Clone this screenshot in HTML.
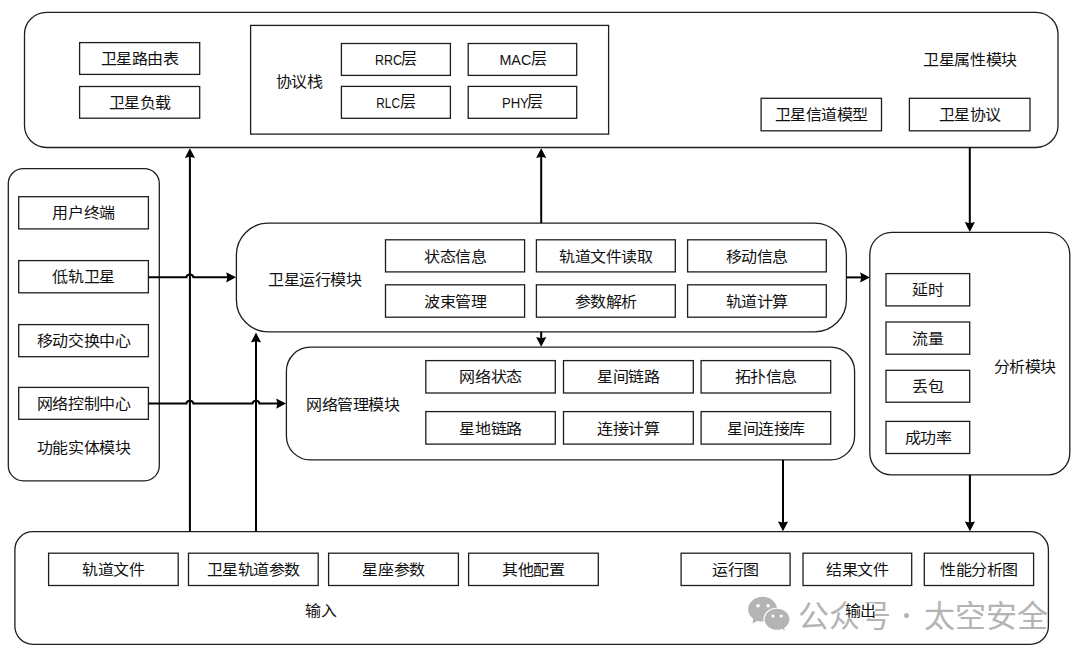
<!DOCTYPE html>
<html lang="zh-CN"><head><meta charset="utf-8"><title>diagram</title>
<style>
html,body{margin:0;padding:0;background:#fff;width:1080px;height:659px;overflow:hidden}
svg{display:block;font-family:"Liberation Sans",sans-serif}
text{text-anchor:middle;dominant-baseline:central}
</style></head><body>
<svg width="1080" height="659" viewBox="0 0 1080 659">
<rect x="24.50" y="12.30" width="1033.50" height="135.20" rx="22" fill="#fff" stroke="#1e1e1e" stroke-width="1.3"/>
<rect x="79.60" y="42.60" width="120.10" height="31.80" rx="0" fill="#fff" stroke="#1e1e1e" stroke-width="1.3"/>
<rect x="79.60" y="86.50" width="120.10" height="31.70" rx="0" fill="#fff" stroke="#1e1e1e" stroke-width="1.3"/>
<rect x="250.60" y="25.40" width="358.00" height="108.70" rx="0" fill="#fff" stroke="#1e1e1e" stroke-width="1.3"/>
<rect x="341.40" y="43.50" width="109.00" height="31.90" rx="0" fill="#fff" stroke="#1e1e1e" stroke-width="1.3"/>
<rect x="468.20" y="43.50" width="108.50" height="31.90" rx="0" fill="#fff" stroke="#1e1e1e" stroke-width="1.3"/>
<rect x="341.40" y="86.40" width="109.00" height="31.90" rx="0" fill="#fff" stroke="#1e1e1e" stroke-width="1.3"/>
<rect x="468.20" y="86.40" width="108.50" height="31.90" rx="0" fill="#fff" stroke="#1e1e1e" stroke-width="1.3"/>
<rect x="761.10" y="98.30" width="120.40" height="32.50" rx="0" fill="#fff" stroke="#1e1e1e" stroke-width="1.3"/>
<rect x="909.40" y="98.30" width="120.60" height="32.50" rx="0" fill="#fff" stroke="#1e1e1e" stroke-width="1.3"/>
<rect x="8.30" y="168.60" width="151.00" height="312.20" rx="15" fill="#fff" stroke="#1e1e1e" stroke-width="1.3"/>
<rect x="18.70" y="196.70" width="129.70" height="32.20" rx="0" fill="#fff" stroke="#1e1e1e" stroke-width="1.3"/>
<rect x="18.70" y="260.60" width="129.70" height="32.20" rx="0" fill="#fff" stroke="#1e1e1e" stroke-width="1.3"/>
<rect x="18.70" y="324.60" width="129.70" height="32.10" rx="0" fill="#fff" stroke="#1e1e1e" stroke-width="1.3"/>
<rect x="18.70" y="387.40" width="129.70" height="31.90" rx="0" fill="#fff" stroke="#1e1e1e" stroke-width="1.3"/>
<rect x="236.40" y="223.10" width="610.00" height="108.80" rx="32" fill="#fff" stroke="#1e1e1e" stroke-width="1.3"/>
<rect x="385.50" y="239.80" width="139.10" height="32.10" rx="0" fill="#fff" stroke="#1e1e1e" stroke-width="1.3"/>
<rect x="536.40" y="239.80" width="138.90" height="32.10" rx="0" fill="#fff" stroke="#1e1e1e" stroke-width="1.3"/>
<rect x="687.60" y="239.80" width="138.70" height="32.10" rx="0" fill="#fff" stroke="#1e1e1e" stroke-width="1.3"/>
<rect x="385.50" y="284.80" width="139.10" height="32.40" rx="0" fill="#fff" stroke="#1e1e1e" stroke-width="1.3"/>
<rect x="536.40" y="284.80" width="138.90" height="32.40" rx="0" fill="#fff" stroke="#1e1e1e" stroke-width="1.3"/>
<rect x="687.60" y="284.80" width="138.70" height="32.40" rx="0" fill="#fff" stroke="#1e1e1e" stroke-width="1.3"/>
<rect x="286.40" y="347.20" width="568.20" height="112.70" rx="24" fill="#fff" stroke="#1e1e1e" stroke-width="1.3"/>
<rect x="425.80" y="360.60" width="129.50" height="32.40" rx="0" fill="#fff" stroke="#1e1e1e" stroke-width="1.3"/>
<rect x="563.50" y="360.60" width="129.80" height="32.40" rx="0" fill="#fff" stroke="#1e1e1e" stroke-width="1.3"/>
<rect x="701.10" y="360.60" width="129.60" height="32.40" rx="0" fill="#fff" stroke="#1e1e1e" stroke-width="1.3"/>
<rect x="425.80" y="411.60" width="129.50" height="32.50" rx="0" fill="#fff" stroke="#1e1e1e" stroke-width="1.3"/>
<rect x="563.50" y="411.60" width="129.80" height="32.50" rx="0" fill="#fff" stroke="#1e1e1e" stroke-width="1.3"/>
<rect x="701.10" y="411.60" width="129.60" height="32.50" rx="0" fill="#fff" stroke="#1e1e1e" stroke-width="1.3"/>
<rect x="869.80" y="232.40" width="200.00" height="242.50" rx="22" fill="#fff" stroke="#1e1e1e" stroke-width="1.3"/>
<rect x="886.00" y="273.60" width="83.70" height="32.30" rx="0" fill="#fff" stroke="#1e1e1e" stroke-width="1.3"/>
<rect x="886.00" y="322.00" width="83.70" height="32.20" rx="0" fill="#fff" stroke="#1e1e1e" stroke-width="1.3"/>
<rect x="886.00" y="370.30" width="83.70" height="31.90" rx="0" fill="#fff" stroke="#1e1e1e" stroke-width="1.3"/>
<rect x="886.00" y="421.40" width="83.70" height="32.10" rx="0" fill="#fff" stroke="#1e1e1e" stroke-width="1.3"/>
<rect x="14.90" y="531.70" width="1033.50" height="112.60" rx="18" fill="#fff" stroke="#1e1e1e" stroke-width="1.3"/>
<rect x="48.60" y="553.20" width="129.60" height="32.30" rx="0" fill="#fff" stroke="#1e1e1e" stroke-width="1.3"/>
<rect x="188.50" y="553.20" width="129.70" height="32.30" rx="0" fill="#fff" stroke="#1e1e1e" stroke-width="1.3"/>
<rect x="328.60" y="553.20" width="129.80" height="32.30" rx="0" fill="#fff" stroke="#1e1e1e" stroke-width="1.3"/>
<rect x="468.60" y="553.20" width="129.70" height="32.30" rx="0" fill="#fff" stroke="#1e1e1e" stroke-width="1.3"/>
<rect x="681.10" y="553.20" width="109.00" height="32.30" rx="0" fill="#fff" stroke="#1e1e1e" stroke-width="1.3"/>
<rect x="803.00" y="553.20" width="108.70" height="32.30" rx="0" fill="#fff" stroke="#1e1e1e" stroke-width="1.3"/>
<rect x="924.30" y="553.20" width="109.30" height="32.30" rx="0" fill="#fff" stroke="#1e1e1e" stroke-width="1.3"/>
<path d="M189.9 531.7 V156" stroke="#000" stroke-width="2" fill="none"/>
<polygon points="189.90,148.20 184.80,158.00 189.90,156.80 195.00,158.00" fill="#000"/>
<path d="M256.0 531.7 V340" stroke="#000" stroke-width="2" fill="none"/>
<polygon points="256.00,332.60 250.90,342.40 256.00,341.20 261.10,342.40" fill="#000"/>
<path d="M541.2 223.1 V156" stroke="#000" stroke-width="2" fill="none"/>
<polygon points="541.20,148.20 536.10,158.00 541.20,156.80 546.30,158.00" fill="#000"/>
<path d="M541.2 331.8 V339" stroke="#000" stroke-width="2" fill="none"/>
<polygon points="541.20,346.80 536.10,337.00 541.20,338.20 546.30,337.00" fill="#000"/>
<path d="M969.8 147.5 V224" stroke="#000" stroke-width="2" fill="none"/>
<polygon points="969.80,231.90 964.70,222.10 969.80,223.30 974.90,222.10" fill="#000"/>
<path d="M783.0 459.9 V523" stroke="#000" stroke-width="2" fill="none"/>
<polygon points="783.00,531.20 777.90,521.40 783.00,522.60 788.10,521.40" fill="#000"/>
<path d="M969.9 474.9 V523" stroke="#000" stroke-width="2" fill="none"/>
<polygon points="969.90,531.20 964.80,521.40 969.90,522.60 975.00,521.40" fill="#000"/>
<path d="M846.4 277.4 H862" stroke="#000" stroke-width="2" fill="none"/>
<polygon points="869.90,277.40 860.10,272.30 861.30,277.40 860.10,282.50" fill="#000"/>
<path d="M148.4 277.3 H186.4 C186.9 273.6 192.9 273.6 193.4 277.3 H228" stroke="#000" stroke-width="2" fill="none"/>
<polygon points="236.00,277.30 226.20,272.20 227.40,277.30 226.20,282.40" fill="#000"/>
<path d="M148.4 403.6 H186.4 C186.9 399.90000000000003 192.9 399.90000000000003 193.4 403.6 H252.5 C253.0 399.90000000000003 259.0 399.90000000000003 259.5 403.6 H278" stroke="#000" stroke-width="2" fill="none"/>
<polygon points="286.00,403.60 276.20,398.50 277.40,403.60 276.20,408.70" fill="#000"/>
<g fill="#b4b4b4">
<ellipse cx="762.6" cy="609.2" rx="14.4" ry="12.4"/>
<path d="M753.5 617 L752.5 623.6 L760 619.5 Z"/>
<ellipse cx="777" cy="619.3" rx="13.6" ry="11.6" fill="#fff"/>
<ellipse cx="777" cy="619.3" rx="12.4" ry="10.5"/>
<path d="M781 627 L784.5 631 L784 625 Z"/>
</g>
<g fill="#fff"><circle cx="758" cy="605.7" r="1.8"/><circle cx="768.1" cy="605.7" r="1.8"/><circle cx="772.9" cy="616" r="1.6"/><circle cx="781.2" cy="616" r="1.6"/></g>
<text x="798" y="616" font-size="31" fill="#b4b4b4" style="text-anchor:start">公众号</text>
<circle cx="906.5" cy="615.5" r="2.5" fill="#b4b4b4"/>
<rect x="845" y="603.2" width="30" height="15" fill="#fff"/>
<text x="923.5" y="616" font-size="31" fill="#b4b4b4" style="text-anchor:start">太空安全</text>
<text transform="translate(139.65,58.90) scale(1,0.93)" x="0" y="0" font-size="16" fill="#111">卫星路由表</text>
<text transform="translate(139.65,102.75) scale(1,0.93)" x="0" y="0" font-size="16" fill="#111">卫星负载</text>
<text transform="translate(299.00,81.40) scale(1,0.93)" x="0" y="0" font-size="16" fill="#111">协议栈</text>
<text transform="translate(374.90,64.80) scale(0.815,1)" x="0" y="0" font-size="15.3" fill="#111" style="text-anchor:start;dominant-baseline:alphabetic">RRC</text>
<text x="401.00" y="58.90" font-size="16" fill="#111" style="text-anchor:start">层</text>
<text transform="translate(499.40,64.80) scale(0.940,1)" x="0" y="0" font-size="15.3" fill="#111" style="text-anchor:start;dominant-baseline:alphabetic">MAC</text>
<text x="530.50" y="58.90" font-size="16" fill="#111" style="text-anchor:start">层</text>
<text transform="translate(376.30,107.80) scale(0.775,1)" x="0" y="0" font-size="15.3" fill="#111" style="text-anchor:start;dominant-baseline:alphabetic">RLC</text>
<text x="400.20" y="101.90" font-size="16" fill="#111" style="text-anchor:start">层</text>
<text transform="translate(501.90,107.80) scale(0.857,1)" x="0" y="0" font-size="15.3" fill="#111" style="text-anchor:start;dominant-baseline:alphabetic">PHY</text>
<text x="527.40" y="101.90" font-size="16" fill="#111" style="text-anchor:start">层</text>
<text transform="translate(970.00,59.40) scale(1,0.93)" x="0" y="0" font-size="16" fill="#111">卫星属性模块</text>
<text transform="translate(821.30,114.95) scale(1,0.93)" x="0" y="0" font-size="16" fill="#111">卫星信道模型</text>
<text transform="translate(969.70,114.95) scale(1,0.93)" x="0" y="0" font-size="16" fill="#111">卫星协议</text>
<text transform="translate(83.55,213.20) scale(1,0.93)" x="0" y="0" font-size="16" fill="#111">用户终端</text>
<text transform="translate(83.55,277.10) scale(1,0.93)" x="0" y="0" font-size="16" fill="#111">低轨卫星</text>
<text transform="translate(83.55,341.05) scale(1,0.93)" x="0" y="0" font-size="16" fill="#111">移动交换中心</text>
<text transform="translate(83.55,403.75) scale(1,0.93)" x="0" y="0" font-size="16" fill="#111">网络控制中心</text>
<text transform="translate(83.50,447.40) scale(1,0.93)" x="0" y="0" font-size="16" fill="#111">功能实体模块</text>
<text transform="translate(314.60,279.40) scale(1,0.93)" x="0" y="0" font-size="16" fill="#111">卫星运行模块</text>
<text transform="translate(455.05,256.25) scale(1,0.93)" x="0" y="0" font-size="16" fill="#111">状态信息</text>
<text transform="translate(605.85,256.25) scale(1,0.93)" x="0" y="0" font-size="16" fill="#111">轨道文件读取</text>
<text transform="translate(756.95,256.25) scale(1,0.93)" x="0" y="0" font-size="16" fill="#111">移动信息</text>
<text transform="translate(455.05,301.40) scale(1,0.93)" x="0" y="0" font-size="16" fill="#111">波束管理</text>
<text transform="translate(605.85,301.40) scale(1,0.93)" x="0" y="0" font-size="16" fill="#111">参数解析</text>
<text transform="translate(756.95,301.40) scale(1,0.93)" x="0" y="0" font-size="16" fill="#111">轨道计算</text>
<text transform="translate(352.80,404.70) scale(1,0.93)" x="0" y="0" font-size="16" fill="#111">网络管理模块</text>
<text transform="translate(490.55,377.20) scale(1,0.93)" x="0" y="0" font-size="16" fill="#111">网络状态</text>
<text transform="translate(628.40,377.20) scale(1,0.93)" x="0" y="0" font-size="16" fill="#111">星间链路</text>
<text transform="translate(765.90,377.20) scale(1,0.93)" x="0" y="0" font-size="16" fill="#111">拓扑信息</text>
<text transform="translate(490.55,428.25) scale(1,0.93)" x="0" y="0" font-size="16" fill="#111">星地链路</text>
<text transform="translate(628.40,428.25) scale(1,0.93)" x="0" y="0" font-size="16" fill="#111">连接计算</text>
<text transform="translate(765.90,428.25) scale(1,0.93)" x="0" y="0" font-size="16" fill="#111">星间连接库</text>
<text transform="translate(927.85,290.15) scale(1,0.93)" x="0" y="0" font-size="16" fill="#111">延时</text>
<text transform="translate(927.85,338.50) scale(1,0.93)" x="0" y="0" font-size="16" fill="#111">流量</text>
<text transform="translate(927.85,386.65) scale(1,0.93)" x="0" y="0" font-size="16" fill="#111">丢包</text>
<text transform="translate(927.85,437.85) scale(1,0.93)" x="0" y="0" font-size="16" fill="#111">成功率</text>
<text transform="translate(1024.60,367.10) scale(1,0.93)" x="0" y="0" font-size="16" fill="#111">分析模块</text>
<text transform="translate(113.40,569.75) scale(1,0.93)" x="0" y="0" font-size="16" fill="#111">轨道文件</text>
<text transform="translate(253.35,569.75) scale(1,0.93)" x="0" y="0" font-size="16" fill="#111">卫星轨道参数</text>
<text transform="translate(393.50,569.75) scale(1,0.93)" x="0" y="0" font-size="16" fill="#111">星座参数</text>
<text transform="translate(533.45,569.75) scale(1,0.93)" x="0" y="0" font-size="16" fill="#111">其他配置</text>
<text transform="translate(735.60,569.75) scale(1,0.93)" x="0" y="0" font-size="16" fill="#111">运行图</text>
<text transform="translate(857.35,569.75) scale(1,0.93)" x="0" y="0" font-size="16" fill="#111">结果文件</text>
<text transform="translate(978.95,569.75) scale(1,0.93)" x="0" y="0" font-size="16" fill="#111">性能分析图</text>
<text transform="translate(320.60,611.10) scale(1,0.93)" x="0" y="0" font-size="16" fill="#111">输入</text>
<text transform="translate(860.30,611.10) scale(1,0.93)" x="0" y="0" font-size="16" fill="#111">输出</text>
</svg>
</body></html>
